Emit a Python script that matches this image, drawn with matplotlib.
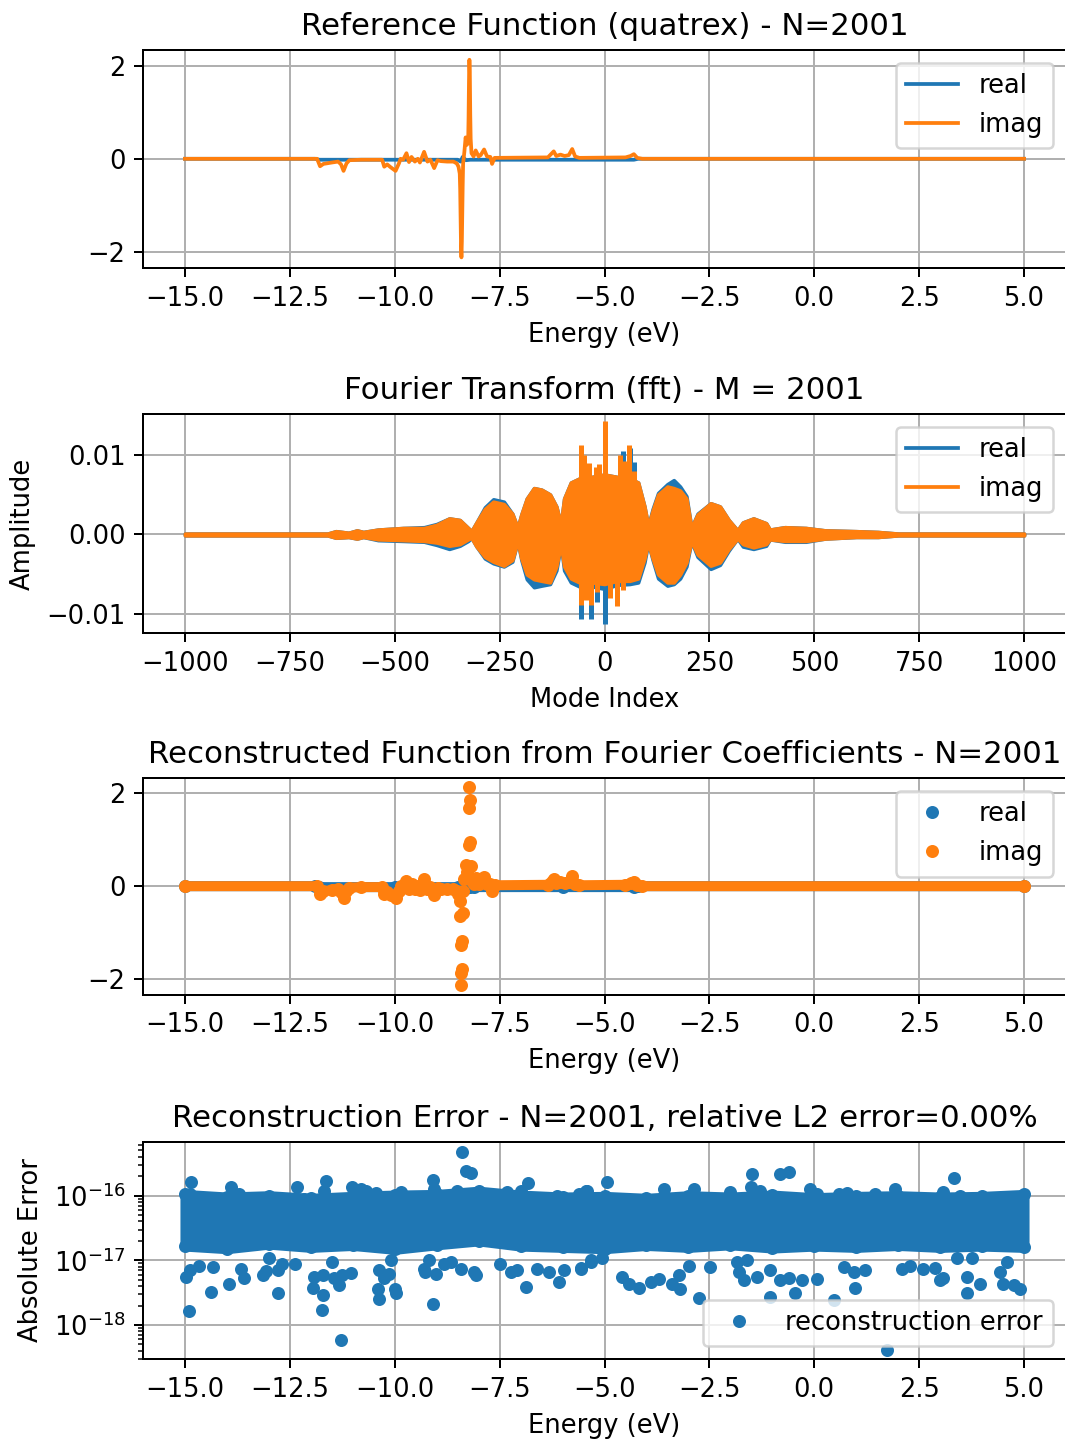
import numpy as np
import matplotlib
matplotlib.use("Agg")
import matplotlib.pyplot as plt

C_REAL = "#1f77b4"
C_IMAG = "#ff7f0e"

# ---------------- Reference function (energy in eV) ----------------
ref_E = [-15.0, -11.85, -11.78, -11.70, -11.50, -11.35, -11.28, -11.22, -11.15, -11.08,
         -10.80, -10.30, -10.25, -10.18, -10.10, -9.98, -9.90, -9.86, -9.80, -9.72,
         -9.66, -9.60, -9.52, -9.45, -9.40, -9.30, -9.22, -9.15, -9.06, -8.98,
         -8.90, -8.75, -8.60, -8.52, -8.48, -8.45, -8.44, -8.43, -8.42, -8.41,
         -8.40, -8.39, -8.38, -8.37, -8.34, -8.31, -8.28, -8.25, -8.24, -8.23,
         -8.22, -8.21, -8.20, -8.19, -8.17, -8.12, -8.07, -8.00, -7.95, -7.87,
         -7.80, -7.72, -7.68, -7.62, -6.35, -6.21, -6.15, -6.05, -5.95, -5.85,
         -5.77, -5.70, -5.60, -4.50, -4.38, -4.30, -4.22, -4.10, 5.0]
ref_imag = [0, 0, -0.16, -0.11, -0.08, -0.06, -0.12, -0.26, -0.10, -0.03,
            -0.02, -0.02, -0.17, -0.12, -0.18, -0.26, -0.10, 0.0, -0.02, 0.12,
            -0.07, 0.04, -0.06, 0.0, -0.08, 0.15, -0.06, -0.02, -0.20, -0.03,
            -0.05, -0.06, -0.06, -0.10, -0.17, -0.32, -0.65, -1.27, -1.87, -2.12,
            -1.78, -1.18, -0.57, -0.10, 0.15, 0.46, 0.30, 0.36, 0.89, 1.68,
            2.13, 1.85, 0.96, 0.43, 0.12, 0.05, 0.18, 0.05, 0.08, 0.20,
            0.05, 0.04, -0.11, 0.02, 0.03, 0.16, 0.06, 0.09, 0.06, 0.08,
            0.21, 0.05, 0.02, 0.03, 0.06, 0.10, 0.02, 0.0, 0.0]
ref_real_E = [-15.0, -11.9, -11.8, -10.0, -8.5, -8.43, -8.38, -8.3, -8.2, -8.1, -6.0, -4.3, -4.2, 5.0]
ref_real = [0, 0, -0.02, -0.02, -0.02, -0.06, 0.04, -0.03, -0.02, -0.02, -0.02, -0.02, 0, 0]

# ---------------- Fourier coefficients (envelopes, units of 1e-3) ----------------
fft_m = [-1000, -660, -640, -610, -590, -575, -540, -480, -430, -400,
         -370, -345, -325, -317, -305, -285, -265, -240, -220, -207,
         -198, -185, -168, -150, -130, -115, -104, -96, -80, -60,
         -30, 0, 30, 60, 80, 95, 104, 115, 128, 150,
         165, 180, 195, 207, 222, 253, 275, 296, 317, 330,
         355, 385, 394, 430, 480, 526, 600, 652, 700, 1000]
imag_hi = [0.1, 0.1, 0.4, 0.2, 0.5, 0.3, 0.6, 0.8, 0.8, 1.2,
           2.0, 1.8, 0.8, 0.4, 1.5, 3.2, 4.1, 3.8, 2.6, 0.8,
           2.5, 4.5, 5.8, 5.6, 5.0, 3.5, 1.2, 4.5, 6.5, 7.0,
           7.2, 7.5, 7.2, 7.0, 6.5, 3.5, 1.0, 3.0, 5.0, 6.0,
           5.8, 5.5, 4.5, 0.8, 2.5, 3.9, 3.5, 1.8, 0.5, 1.5,
           2.0, 1.4, 0.6, 0.9, 0.8, 0.5, 0.4, 0.3, 0.1, 0.1]
imag_lo = [-0.1, -0.1, -0.4, -0.3, -0.5, -0.3, -0.6, -0.7, -0.8, -1.0,
           -1.4, -1.2, -0.6, -0.4, -1.5, -2.8, -3.4, -3.9, -3.2, -0.8,
           -3.0, -5.0, -5.6, -5.8, -6.0, -4.0, -1.2, -4.0, -5.5, -6.0,
           -6.0, -6.2, -5.8, -5.8, -5.5, -3.0, -1.0, -3.0, -5.0, -6.0,
           -6.0, -5.0, -3.5, -0.8, -2.5, -3.9, -3.5, -1.8, -0.5, -1.2,
           -1.6, -1.2, -0.6, -0.8, -0.8, -0.5, -0.3, -0.3, -0.1, -0.1]
real_hi = [0.1, 0.1, 0.4, 0.2, 0.5, 0.3, 0.6, 0.8, 0.9, 1.3,
           2.0, 1.8, 0.8, 0.4, 1.5, 3.4, 4.4, 4.1, 2.6, 0.8,
           2.5, 4.5, 5.8, 5.6, 5.0, 3.5, 1.2, 4.5, 6.5, 7.0,
           7.2, 7.5, 7.2, 7.0, 6.5, 3.5, 1.0, 3.2, 5.2, 6.3,
           6.8, 6.0, 4.8, 0.8, 2.6, 3.9, 3.5, 1.8, 0.5, 1.5,
           2.0, 1.4, 0.6, 0.9, 0.8, 0.5, 0.4, 0.3, 0.1, 0.1]
real_lo = [-0.1, -0.1, -0.4, -0.3, -0.5, -0.3, -0.7, -0.8, -0.9, -1.3,
           -1.8, -1.4, -0.8, -0.4, -1.5, -3.0, -3.6, -4.0, -3.4, -0.8,
           -3.2, -5.6, -6.6, -6.4, -6.2, -4.5, -1.2, -4.5, -6.0, -6.5,
           -6.5, -6.8, -6.3, -6.2, -6.0, -3.5, -1.0, -3.2, -5.5, -6.4,
           -6.2, -5.5, -4.0, -0.8, -2.8, -4.3, -3.8, -2.0, -0.5, -1.5,
           -1.8, -1.4, -0.6, -0.9, -0.9, -0.5, -0.3, -0.3, -0.1, -0.1]
imag_spike_m = [-57, -49, -37, -21, -12, 2, 38, 50, 58, 70]
imag_spike_top = [11.2, 10.0, 9.0, 8.5, 8.8, 14.2, 10.0, 9.2, 11.2, 8.0]
imag_spike_bot_m = [-57, -45, -33, -17, 14, 30, 45]
imag_spike_bot = [-8.9, -8.2, -8.9, -7.2, -8.0, -9.0, -7.0]
real_spike_m = [45, 60, 70, -55]
real_spike_top = [10.5, 10.9, 9.1, 9.5]
real_spike_bot_m = [-57, -33, 2, -17]
real_spike_bot = [-10.6, -10.6, -11.2, -8.5]

# ---------------- Reconstruction error (log10 values) ----------------
band_E = [-15, -14, -13, -12, -11, -10, -9, -8, -7, -6, -5, -4, -3, -2, -1, 0, 1, 2, 3, 4, 5]
band_hi = [-15.98, -16.02, -16.00, -16.04, -16.01, -15.99, -15.98, -15.93, -15.99, -16.02,
           -16.01, -16.04, -16.00, -16.02, -15.99, -16.03, -16.01, -16.00, -16.02, -16.01, -15.98]
band_lo = [-16.78, -16.82, -16.75, -16.80, -16.77, -16.83, -16.76, -16.70, -16.78, -16.80,
           -16.82, -16.77, -16.80, -16.76, -16.81, -16.78, -16.80, -16.77, -16.80, -16.78, -16.80]
err_E = [-14.86, -14.87, -13.90, -13.71, -14.42, -12.33, -12.16, -11.64, -11.68, -11.01,
         -10.81, -10.69, -10.45, -9.86, -9.58, -9.08, -9.06, -8.40, -8.31, -8.19,
         -8.51, -7.32, -7.00, -6.83, -6.37, -6.13, -5.61, -5.41,
         -14.98, -14.87, -14.90, -14.66, -14.38, -14.34, -13.94, -13.67, -13.59, -13.15,
         -13.07, -12.99, -12.79, -12.79, -12.68, -12.38, -11.95, -11.92, -11.72, -11.70,
         -11.74, -11.49, -11.45, -11.33, -11.29, -11.25, -11.05, -10.37, -10.41, -10.37,
         -10.25, -10.14, -10.10, -9.99, -9.98, -9.30, -9.28, -9.18, -9.09, -9.02,
         -8.83, -8.67, -8.43, -8.11, -8.07, -7.48, -7.24, -7.08, -6.88, -6.60,
         -6.33, -6.09, -5.97, -5.57, -5.33,
         -4.94, -5.45, -3.59, -2.87, -2.02, -1.48, -1.52, -1.29, -0.81, -0.61,
         -0.11, 0.06, 0.58, 0.78, 1.45, 1.93, 2.13, 2.52, 3.08, 3.33,
         3.48, 3.79, 4.90, 4.94,
         -5.57, -5.33, -5.06, -4.58, -4.42, -4.18, -3.90, -3.71, -3.39, -3.19,
         -3.23, -2.99, -2.75, -2.48, -1.84, -1.80, -1.68, -1.60, -1.37, -1.05,
         -1.05, -0.81, -0.61, -0.45, -0.29, 0.06, 0.46, 0.70, 0.94, 0.98,
         1.21, 1.73, 2.09, 2.29, 2.60, 2.88, 3.00, 3.08, 3.63, 3.63,
         3.95, 4.43, 4.51, 4.75, 4.90, 4.59, 3.40, 3.75]
err_log = [-15.79, -15.97, -15.87, -15.97, -16.05, -15.87, -16.05, -15.78, -15.92, -15.87,
           -15.90, -15.92, -15.96, -15.95, -16.04, -15.75, -15.90, -15.32, -15.62, -15.65,
           -15.92, -15.95, -15.92, -15.81, -16.03, -16.00, -15.97, -15.92,
           -17.26, -17.15, -17.79, -17.09, -17.49, -17.10, -17.36, -17.13, -17.28, -17.23,
           -17.17, -16.97, -17.15, -17.50, -17.05, -17.05, -17.42, -17.26, -17.23, -17.54,
           -17.76, -17.03, -17.28, -17.38, -18.23, -17.22, -17.20, -17.15, -17.44, -17.59,
           -17.28, -17.21, -17.00, -17.44, -17.51, -17.13, -17.18, -17.00, -17.68, -17.21,
           -17.05, -17.03, -17.13, -17.18, -17.23, -17.05, -17.18, -17.15, -17.41, -17.13,
           -17.18, -17.33, -17.15, -17.13, -17.03,
           -15.79, -15.92, -15.90, -15.90, -15.94, -15.67, -15.87, -15.92, -15.67, -15.63,
           -15.89, -15.97, -15.97, -15.96, -15.97, -15.90, -16.03, -16.05, -15.94, -15.72,
           -16.00, -16.08, -16.03, -16.10,
           -17.12, -17.00, -16.97, -17.26, -17.36, -17.43, -17.33, -17.29, -17.36, -17.44,
           -17.23, -17.08, -17.58, -17.10, -17.02, -17.18, -17.31, -17.00, -17.26, -17.56,
           -17.15, -17.31, -17.28, -17.50, -17.31, -17.29, -17.62, -17.10, -17.18, -17.43,
           -17.15, -18.38, -17.13, -17.08, -17.13, -17.12, -17.31, -17.28, -17.26, -17.51,
           -17.37, -17.18, -17.36, -17.38, -17.45, -17.03, -16.97, -16.97]

energy_ticks = [-15.0, -12.5, -10.0, -7.5, -5.0, -2.5, 0.0, 2.5, 5.0]
mode_ticks = [-1000, -750, -500, -250, 0, 250, 500, 750, 1000]

plt.rcParams["font.size"] = 10.3
plt.rcParams["axes.titlesize"] = 12.35
plt.rcParams["legend.fontsize"] = 10.3

W, H, DPI = 1065, 1441, 180
fig = plt.figure(figsize=(W / DPI, H / DPI), dpi=DPI)

left = 143 / W
width = 923 / W

def mkax(top_px, bot_px):
    return fig.add_axes([left, 1 - bot_px / H, width, (bot_px - top_px) / H])

E = np.array(ref_E)
imag = np.array(ref_imag)

# Panel 1
ax1 = mkax(50, 268.3)
ax1.plot(ref_real_E, ref_real, color=C_REAL, lw=1.5, label="real")
ax1.plot(E, imag, color=C_IMAG, lw=1.5, label="imag")
ax1.set_xlim(-16, 6)
ax1.set_ylim(-2.355, 2.34)
ax1.set_xticks(energy_ticks)
ax1.set_yticks([-2, 0, 2])
ax1.grid(True)
ax1.set_title("Reference Function (quatrex) - N=2001")
ax1.set_xlabel("Energy (eV)")
ax1.legend(loc="upper right")

# Panel 2
ax2 = mkax(414, 633)
s = 1e-3
ax2.fill_between(fft_m, np.array(real_lo) * s, np.array(real_hi) * s, color=C_REAL, lw=1.5,
                 edgecolor=C_REAL, zorder=2)
ax2.vlines(real_spike_m, 0, np.array(real_spike_top) * s, color=C_REAL, lw=2, zorder=2)
ax2.vlines(real_spike_bot_m, np.array(real_spike_bot) * s, 0, color=C_REAL, lw=2, zorder=2)
ax2.fill_between(fft_m, np.array(imag_lo) * s, np.array(imag_hi) * s, color=C_IMAG, lw=1.5,
                 edgecolor=C_IMAG, zorder=2)
ax2.vlines(imag_spike_m, 0, np.array(imag_spike_top) * s, color=C_IMAG, lw=2, zorder=2)
ax2.vlines(imag_spike_bot_m, np.array(imag_spike_bot) * s, 0, color=C_IMAG, lw=2, zorder=2)
ax2.plot([], [], color=C_REAL, lw=1.5, label="real")
ax2.plot([], [], color=C_IMAG, lw=1.5, label="imag")
ax2.set_xlim(-1100, 1100)
ax2.set_ylim(-0.01235, 0.0151)
ax2.set_xticks(mode_ticks)
ax2.set_yticks([-0.01, 0.0, 0.01])
ax2.grid(True)
ax2.set_title("Fourier Transform (fft) - M = 2001")
ax2.set_xlabel("Mode Index")
ax2.set_ylabel("Amplitude")
ax2.legend(loc="upper right")

# Panel 3
ax3 = mkax(778.3, 995)
spike_zone = (E > -8.46) & (E < -8.165)
imag_line = np.where(spike_zone, np.nan, imag)
ax3.plot(ref_real_E, ref_real, color=C_REAL, lw=4, solid_capstyle="round", solid_joinstyle="round")
ax3.plot(ref_real_E, ref_real, "o", color=C_REAL, ms=4.2, label="real")
ax3.plot(E, imag_line, color=C_IMAG, lw=4, solid_capstyle="round", solid_joinstyle="round")
ax3.plot(E, imag, "o", color=C_IMAG, ms=4.2, label="imag")
ax3.set_xlim(-16, 6)
ax3.set_ylim(-2.34, 2.32)
ax3.set_xticks(energy_ticks)
ax3.set_yticks([-2, 0, 2])
ax3.grid(True)
ax3.set_title("Reconstructed Function from Fourier Coefficients - N=2001")
ax3.set_xlabel("Energy (eV)")
ax3.legend(loc="upper right")

# Panel 4
ax4 = mkax(1141.7, 1359.3)
ax4.set_yscale("log")
bh = 10.0 ** np.array(band_hi)
bl = 10.0 ** np.array(band_lo)
ax4.fill_between(band_E, bl, bh, color=C_REAL, lw=4, edgecolor=C_REAL, joinstyle="round", zorder=2)
ax4.plot(band_E, bh, "o", color=C_REAL, ms=4.2)
ax4.plot(band_E, bl, "o", color=C_REAL, ms=4.2)
ax4.plot(err_E, 10.0 ** np.array(err_log), "o", color=C_REAL, ms=4.2, label="reconstruction error")
ax4.set_xlim(-16, 6)
ax4.set_ylim(10 ** -18.53, 10 ** -15.165)
ax4.set_xticks(energy_ticks)
ax4.grid(True)
ax4.set_title("Reconstruction Error - N=2001, relative L2 error=0.00%")
ax4.set_xlabel("Energy (eV)")
ax4.set_ylabel("Absolute Error")
ax4.legend(loc="lower right")

fig.savefig("out.png", dpi=DPI)
